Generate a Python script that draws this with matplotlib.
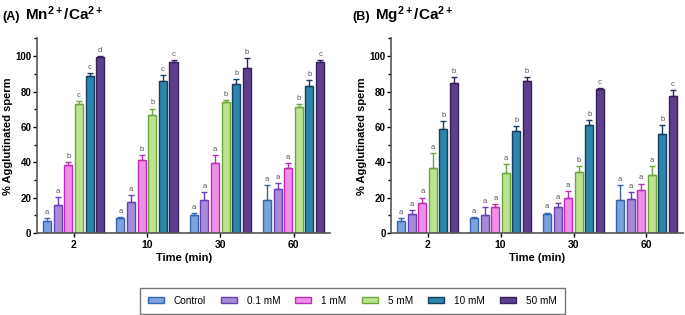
import matplotlib
matplotlib.use('Agg')
import matplotlib.pyplot as plt
from matplotlib.patches import Patch
from matplotlib.ticker import MultipleLocator
import numpy as np

plt.rcParams['font.family'] = ['Liberation Sans', 'DejaVu Sans']
plt.rcParams['mathtext.fontset'] = 'custom'
plt.rcParams['mathtext.rm'] = 'Liberation Sans:bold'
plt.rcParams['mathtext.bf'] = 'Liberation Sans:bold'

times = ['2', '10', '30', '60']
groups = ['Control', '0.1 mM', '1 mM', '5 mM', '10 mM', '50 mM']

# panel A: Mn2+/Ca2+ (rows = concentration, cols = time)
mn_mean = [[7.1, 8.6, 10.5, 18.7],
           [15.7, 17.4, 18.7, 24.9],
           [38.5, 41.4, 39.8, 37.0],
           [73.2, 67.0, 74.0, 71.2],
           [88.7, 85.7, 84.5, 83.4],
           [99.3, 96.7, 93.5, 96.6]]
mn_err = [[1.3, 0.4, 0.9, 8.4],
          [4.5, 3.9, 4.3, 3.5],
          [1.6, 2.5, 4.3, 2.4],
          [1.3, 3.4, 1.3, 1.9],
          [1.5, 3.8, 2.4, 3.1],
          [0.6, 1.1, 5.6, 1.0]]
mn_letters = [['a', 'a', 'a', 'a'],
              ['a', 'a', 'a', 'a'],
              ['b', 'b', 'a', 'a'],
              ['c', 'b', 'b', 'b'],
              ['c', 'c', 'b', 'b'],
              ['d', 'c', 'b', 'c']]

# panel B: Mg2+/Ca2+
mg_mean = [[7.1, 8.6, 10.8, 18.7],
           [10.8, 10.3, 14.6, 19.4],
           [17.0, 14.9, 20.0, 24.1],
           [36.6, 34.1, 34.5, 33.0],
           [59.0, 57.6, 61.0, 56.0],
           [84.7, 85.8, 81.3, 77.4]]
mg_err = [[1.5, 0.4, 0.8, 8.5],
          [2.3, 4.3, 2.6, 3.7],
          [3.1, 1.5, 3.9, 3.9],
          [8.7, 5.1, 3.6, 4.7],
          [4.4, 3.0, 3.0, 5.2],
          [3.7, 2.6, 0.8, 3.4]]
mg_letters = [['a', 'a', 'a', 'a'],
              ['a', 'a', 'a', 'a'],
              ['a', 'a', 'a', 'a'],
              ['a', 'a', 'b', 'a'],
              ['b', 'b', 'b', 'b'],
              ['b', 'b', 'c', 'c']]

fills = ['#7ea3dc', '#a68bd9', '#ee90e8', '#bde290', '#2a86aa', '#5d3f8c']
edges = ['#3565b0', '#6a40b5', '#c02cb8', '#6aa83a', '#173f5e', '#36205e']

fig = plt.figure(figsize=(6.85, 3.15), dpi=100)
axA = fig.add_axes([0.054, 0.260, 0.428, 0.618])
axB = fig.add_axes([0.571, 0.260, 0.426, 0.618])

x = np.arange(len(times))
pitch = 0.145
width = 0.11


def draw(ax, means, errs, letters):
    for i in range(len(groups)):
        pos = x + (i - 2.5) * pitch
        ax.bar(pos, means[i], width, color=fills[i], edgecolor=edges[i], linewidth=1.0, zorder=2)
        ax.errorbar(pos, means[i], yerr=[np.zeros(4), errs[i]], fmt='none',
                    ecolor=edges[i], elinewidth=1.0, capsize=2.2, capthick=1.0, zorder=3)
        for j in range(len(times)):
            ax.text(pos[j], means[i][j] + errs[i][j] + 1.2, letters[i][j], ha='center',
                    va='bottom', fontsize=5.5, color='#555555')
    ax.set_xlim(-0.5, 3.5)
    ax.set_ylim(0, 110)
    ax.set_xticks(x)
    ax.set_xticklabels(times, fontsize=7.5, fontweight='bold')
    ax.set_yticks([0, 20, 40, 60, 80, 100])
    ax.yaxis.set_minor_locator(MultipleLocator(10))
    ax.tick_params(axis='y', labelsize=7, width=1, length=3, pad=1)
    ax.tick_params(axis='y', which='minor', length=2, width=1)
    ax.tick_params(axis='x', width=1, length=3, pad=2)
    for lab in ax.get_yticklabels():
        lab.set_fontweight('bold')
    ax.spines['top'].set_visible(False)
    ax.spines['right'].set_visible(False)
    ax.spines['left'].set_linewidth(1.2)
    ax.spines['bottom'].set_linewidth(1.2)
    ax.spines['left'].set_color('#555555')
    ax.spines['bottom'].set_color('#555555')
    ax.set_xlabel('Time (min)', fontsize=8, fontweight='bold', labelpad=2)
    ax.set_ylabel('% Agglutinated sperm', fontsize=8, fontweight='bold', labelpad=2)


draw(axA, mn_mean, mn_err, mn_letters)
draw(axB, mg_mean, mg_err, mg_letters)

fig.text(0.003, 0.935, '(A)', fontsize=9, fontweight='bold', va='baseline')
fig.text(0.037, 0.935, r'$\mathbf{Mn^{2+}/Ca^{2+}}$', fontsize=11, va='baseline')
fig.text(0.514, 0.935, '(B)', fontsize=9, fontweight='bold', va='baseline')
fig.text(0.548, 0.935, r'$\mathbf{Mg^{2+}/Ca^{2+}}$', fontsize=11, va='baseline')

handles = [Patch(facecolor=fills[i], edgecolor=edges[i], linewidth=1.0, label=groups[i])
           for i in range(len(groups))]
leg = fig.legend(handles=handles, loc='center', bbox_to_anchor=(0.514, 0.046), ncol=6,
                 fontsize=7.2, frameon=True, fancybox=False, edgecolor='#555555',
                 handlelength=1.6, handleheight=0.6, columnspacing=1.5, handletextpad=1.0,
                 borderpad=0.8)
leg.get_frame().set_linewidth(1.0)

fig.savefig('out.png', dpi=100)
